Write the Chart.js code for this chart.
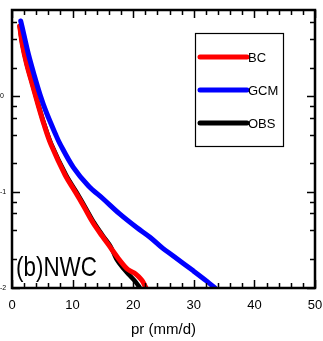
<!DOCTYPE html>
<html>
<head>
<meta charset="utf-8">
<script src="https://cdn.jsdelivr.net/npm/chart.js@4.4.1/dist/chart.umd.min.js"></script>
<style>
  html, body { margin: 0; padding: 0; background: #fff; }
  #wrap { width: 323px; height: 341px; }
</style>
</head>
<body>
<div id="wrap"><canvas id="nwcChart"></canvas></div>
<script>
// données (pr en mm/d, probabilité de dépassement)
const bcX  = [1.27, 1.70, 2.43, 3.35, 4.29, 5.28, 6.44, 8.75, 10.4, 11.88, 13.37, 14.85, 16.17, 17.49, 18.93, 19.64, 20.3, 20.96, 21.53, 22.11];
const bcY  = [5.45, 3.5, 2.16, 1.34, 0.824, 0.509, 0.314, 0.152, 0.102, 0.0705, 0.048, 0.0351, 0.0269, 0.0206, 0.016, 0.0149, 0.0142, 0.0130, 0.0118, 0.010];

const gcmX = [1.44, 1.95, 2.72, 3.63, 4.62, 5.61, 7.21, 7.92, 10.12, 12.59, 15.07, 17.82, 20.58, 22.77, 24.9, 26.62, 29.92, 32.13, 33.5];
const gcmY = [6.14, 4.46, 2.75, 1.70, 1.05, 0.697, 0.40, 0.32, 0.182, 0.117, 0.085, 0.059, 0.0428, 0.0339, 0.0259, 0.0216, 0.0151, 0.0118, 0.010];

const obsX = [1.27, 1.72, 2.46, 3.39, 4.34, 5.34, 6.52, 8.9, 10.57, 12.05, 13.55, 15.0, 16.3, 17.24, 18.37, 19.47, 20.3, 21.12];
const obsY = [5.45, 3.5, 2.16, 1.34, 0.824, 0.509, 0.314, 0.152, 0.102, 0.0705, 0.048, 0.0351, 0.0269, 0.0200, 0.016, 0.0134, 0.0118, 0.010];

const xMajorTicks = [0, 10, 20, 30, 40, 50];
const xMinorTicks = [2, 4, 6, 8, 12, 14, 16, 18, 22, 24, 26, 28, 32, 34, 36, 38, 42, 44, 46, 48];
const yMajorTicks = [0.01, 0.1, 1];
const yMajorLabels = ['-2', '-1', '0'];
const yMinorTicks = [0.02, 0.04, 0.06, 0.08, 0.2, 0.4, 0.6, 0.8, 2, 4, 6];

const panelLabel = '(b)NWC';
const xTitle = 'pr (mm/d)';

function toPoints(xs, ys) {
    return xs.map((x, i) => ({ x: x, y: ys[i] }));
}

const FONT = '"Liberation Sans", Arial, Helvetica, sans-serif';

// cadre, graduations vers l'intérieur, légende et textes
const framePlugin = {
    id: 'frame',
    afterDatasetsDraw(chart) {
        const ctx = chart.ctx;
        const a = chart.chartArea;
        const xs = chart.scales.x, ys = chart.scales.y;
        ctx.save();
        ctx.strokeStyle = '#000';
        ctx.lineWidth = 1.5;
        ctx.beginPath();
        xMajorTicks.concat(xMinorTicks).forEach(v => {
            const len = xMajorTicks.includes(v) ? 8 : 5;
            const px = Math.round(xs.getPixelForValue(v)) + 0.5;
            ctx.moveTo(px, a.bottom); ctx.lineTo(px, a.bottom - len);
            ctx.moveTo(px, a.top); ctx.lineTo(px, a.top + len);
        });
        yMajorTicks.concat(yMinorTicks).forEach(v => {
            const len = yMajorTicks.includes(v) ? 8 : 5;
            const py = Math.round(ys.getPixelForValue(v)) + 0.5;
            ctx.moveTo(a.left, py); ctx.lineTo(a.left + len, py);
            ctx.moveTo(a.right, py); ctx.lineTo(a.right - len, py);
        });
        ctx.stroke();

        ctx.lineWidth = 2.5;
        ctx.strokeRect(a.left, a.top, a.right - a.left, a.bottom - a.top);

        // légende
        const lx = a.left + 183, ly = a.top + 23;
        ctx.lineWidth = 1.2;
        ctx.strokeRect(lx + 0.5, ly + 0.5, 88, 113);
        ctx.font = '13px ' + FONT;
        ctx.textBaseline = 'middle';
        [0, 1, 2].forEach((idx, k) => {
            const ds = chart.data.datasets[idx];
            const y = ly + 24 + k * 33;
            ctx.strokeStyle = ds.borderColor;
            ctx.lineWidth = 5;
            ctx.lineCap = 'round';
            ctx.beginPath();
            ctx.moveTo(lx + 5, y); ctx.lineTo(lx + 52, y);
            ctx.stroke();
            ctx.fillStyle = '#000';
            ctx.fillText(ds.label, lx + 53, y + 1);
        });

        // étiquette du panneau
        ctx.save();
        ctx.translate(a.left + 4, a.bottom - 12);
        ctx.scale(0.8, 1);
        ctx.font = '28px ' + FONT;
        ctx.textBaseline = 'alphabetic';
        ctx.fillStyle = '#000';
        ctx.fillText(panelLabel, 0, 0);
        ctx.restore();

        // titre de l'axe x
        ctx.font = '15px ' + FONT;
        ctx.textAlign = 'center';
        ctx.textBaseline = 'middle';
        ctx.fillStyle = '#000';
        ctx.fillText(xTitle, (a.left + a.right) / 2, 330);
        ctx.restore();
    }
};

const ctx = document.getElementById('nwcChart').getContext('2d');
new Chart(ctx, {
    type: 'line',
    data: {
        datasets: [
            { label: 'BC',  data: toPoints(bcX, bcY),   borderColor: '#ff0000', borderWidth: 5, order: 2 },
            { label: 'GCM', data: toPoints(gcmX, gcmY), borderColor: '#0000ff', borderWidth: 5, order: 1 },
            { label: 'OBS', data: toPoints(obsX, obsY), borderColor: '#000000', borderWidth: 4.5, order: 3 }
        ]
    },
    options: {
        responsive: true,
        maintainAspectRatio: false,
        animation: false,
        elements: {
            point: { radius: 0 },
            line: { tension: 0.35, fill: false, borderCapStyle: 'round', borderJoinStyle: 'round' }
        },
        layout: { padding: { top: 10, right: 8, left: 0, bottom: 0 } },
        scales: {
            x: {
                type: 'linear',
                min: 0,
                max: 50,
                afterFit: s => { s.height = 53; s.paddingRight = 0; s.paddingLeft = 0; },
                afterBuildTicks: s => { s.ticks = xMajorTicks.map(v => ({ value: v })); },
                grid: { display: false, drawTicks: false },
                border: { display: false },
                ticks: {
                    padding: 10,
                    maxRotation: 0,
                    color: '#000',
                    font: { family: FONT, size: 13 },
                    callback: v => String(v)
                }
            },
            y: {
                type: 'logarithmic',
                min: 0.01,
                max: 8,
                afterFit: s => { s.width = 12; s.paddingTop = 0; s.paddingBottom = 0; },
                afterBuildTicks: s => { s.ticks = yMajorTicks.map(v => ({ value: v })); },
                grid: { display: false, drawTicks: false },
                border: { display: false },
                ticks: {
                    padding: 0,
                    crossAlign: 'far',
                    color: '#000',
                    font: { family: FONT, size: 7 },
                    callback: function(v) {
                        const i = yMajorTicks.indexOf(v);
                        return i >= 0 ? yMajorLabels[i] : '';
                    }
                }
            }
        },
        plugins: {
            legend: { display: false },
            tooltip: { enabled: false }
        }
    },
    plugins: [framePlugin]
});
</script>
</body>
</html>
